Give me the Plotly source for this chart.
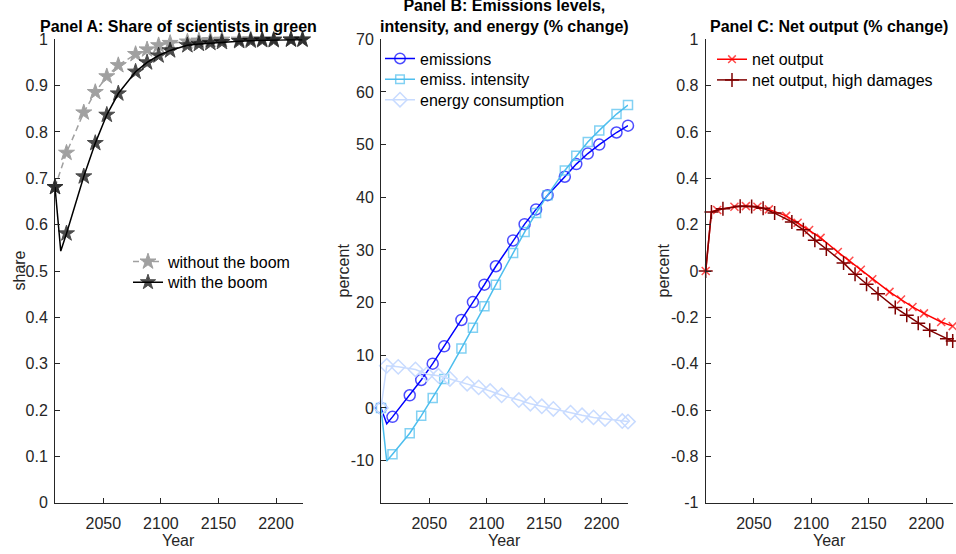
import plotly.graph_objects as go

# ---------------- data ----------------
years_a = [2008, 2013, 2018, 2033, 2043, 2053, 2063, 2078, 2088, 2098, 2108,
           2123, 2133, 2143, 2153, 2168, 2178, 2188, 2198, 2213, 2223]
years_a_nodip = [2008, 2018, 2033, 2043, 2053, 2063, 2078, 2088, 2098, 2108,
                 2123, 2133, 2143, 2153, 2168, 2178, 2188, 2198, 2213, 2223]
years_b = [2008, 2013, 2023, 2038, 2048, 2058, 2068, 2083, 2093, 2103, 2113,
           2128, 2138, 2148, 2158, 2173, 2183, 2193, 2203, 2218, 2223]
unmarked_years = [2013]  # line vertices drawn without a marker (series on years_a)

# Panel A: share of scientists in green
share_without_boom = [0.681, 0.755, 0.842, 0.886, 0.920, 0.944, 0.968, 0.978, 0.987, 0.992,
                      0.995, 0.997, 0.998, 0.999, 0.999, 1.000, 1.000, 1.000, 1.000, 1.000]
share_with_boom = [0.681, 0.543, 0.581, 0.704, 0.776, 0.837, 0.883, 0.930, 0.950, 0.965, 0.976,
                   0.987, 0.990, 0.992, 0.994, 0.996, 0.997, 0.998, 0.998, 0.999, 0.999]

# Panel B: emissions levels, intensity, energy (% change)
emissions = [0.0, -3.0, -1.7, 2.4, 5.3, 8.4, 11.7, 16.7, 20.1, 23.4, 26.9,
             31.8, 34.9, 37.7, 40.4, 43.9, 46.3, 48.3, 50.0, 52.3, 53.6]
emiss_intensity = [0.0, -10.1, -8.8, -4.8, -1.5, 1.9, 5.5, 11.3, 15.2, 19.3, 23.4,
                   29.4, 33.4, 37.0, 40.4, 45.1, 47.9, 50.5, 52.7, 55.8, 57.5]
energy_consumption = [0.0, 8.0, 7.8, 7.3, 6.4, 6.1, 5.5, 4.6, 3.9, 3.2, 2.4,
                      1.5, 0.8, 0.3, -0.2, -0.9, -1.4, -1.8, -2.1, -2.5, -2.6]

# Panel C: net output (% change)
net_output = [0.0, 0.255, 0.263, 0.277, 0.280, 0.277, 0.266, 0.238, 0.208, 0.177, 0.143,
              0.082, 0.044, 0.005, -0.036, -0.090, -0.123, -0.155, -0.183, -0.220, -0.238]
net_output_high = [0.0, 0.255, 0.269, 0.279, 0.278, 0.271, 0.250, 0.212, 0.178, 0.133, 0.095,
                   0.035, -0.014, -0.057, -0.098, -0.158, -0.191, -0.225, -0.256, -0.292, -0.302]

x_tickvals = [2050, 2100, 2150, 2200]
x_ticktext = ["2050", "2100", "2150", "2200"]
yA_tickvals = [0, 0.1, 0.2, 0.3, 0.4, 0.5, 0.6, 0.7, 0.8, 0.9, 1]
yA_ticktext = ["0", "0.1", "0.2", "0.3", "0.4", "0.5", "0.6", "0.7", "0.8", "0.9", "1"]
yB_tickvals = [-10, 0, 10, 20, 30, 40, 50, 60, 70]
yB_ticktext = ["-10", "0", "10", "20", "30", "40", "50", "60", "70"]
yC_tickvals = [-1, -0.8, -0.6, -0.4, -0.2, 0, 0.2, 0.4, 0.6, 0.8, 1]
yC_ticktext = ["-1", "-0.8", "-0.6", "-0.4", "-0.2", "0", "0.2", "0.4", "0.6", "0.8", "1"]

titles = ["<b>Panel A: Share of scientists in green</b>",
          "<b>Panel B: Emissions levels,<br>intensity, and energy (% change)</b>",
          "<b>Panel C: Net output (% change)</b>"]
ylabels = ["share", "percent", "percent"]

# ---------------- styling / layout ----------------
W, H = 956, 554
FONT = "Liberation Sans, Arial, Helvetica, sans-serif"
AX = "#262626"

def px_x(p):
    return p / W

def px_y(p):
    return 1 - p / H

dom_x = [(55, 302.5), (381, 628), (705.7, 952.7)]
dom_y = (px_y(502.7), px_y(39.3))

# legend entry positions (left of entry, vertical centre), in pixels
leg_pos = {
    "legend": (128, 261.7), "legend2": (128, 282.3),
    "legend3": (380, 58.5), "legend4": (380, 79.3), "legend5": (380, 99.8),
    "legend6": (712, 59.3), "legend7": (712, 80.0),
}


def sizes(years, size):
    return [0 if y in unmarked_years else size for y in years]


fig = go.Figure()

# Panel A
fig.add_trace(go.Scatter(
    x=years_a_nodip, y=share_without_boom, mode="lines+markers", name="without the boom",
    line=dict(color="#A0A0A0", width=1.5, dash="6px,4px"),
    marker=dict(symbol="star", size=12, color="#A0A0A0", line=dict(width=1, color="#A0A0A0")),
    xaxis="x", yaxis="y", legend="legend", showlegend=True, cliponaxis=False))
fig.add_trace(go.Scatter(
    x=years_a, y=share_with_boom, mode="lines+markers", name="with the boom",
    line=dict(color="#000000", width=1.5),
    marker=dict(symbol="star", size=sizes(years_a, 12), color="#000000",
                line=dict(width=1, color="#000000")),
    xaxis="x", yaxis="y", legend="legend2", showlegend=True, cliponaxis=False))

# Panel B
fig.add_trace(go.Scatter(
    x=years_a, y=emissions, mode="lines+markers", name="emissions",
    line=dict(color="#0000FF", width=1.5),
    marker=dict(symbol="circle-open", size=sizes(years_a, 11), color="#0000FF",
                line=dict(width=1.5, color="#0000FF")),
    xaxis="x2", yaxis="y2", legend="legend3", showlegend=True, cliponaxis=False))
fig.add_trace(go.Scatter(
    x=years_a, y=emiss_intensity, mode="lines+markers", name="emiss. intensity",
    line=dict(color="#4DBEEE", width=1.5),
    marker=dict(symbol="square-open", size=sizes(years_a, 9), color="#4DBEEE",
                line=dict(width=1.5, color="#4DBEEE")),
    xaxis="x2", yaxis="y2", legend="legend4", showlegend=True, cliponaxis=False))
fig.add_trace(go.Scatter(
    x=years_b, y=energy_consumption, mode="lines+markers", name="energy consumption",
    line=dict(color="#C8DBFF", width=1.5),
    marker=dict(symbol="diamond-open", size=11, color="#C8DBFF",
                line=dict(width=1.5, color="#C8DBFF")),
    xaxis="x2", yaxis="y2", legend="legend5", showlegend=True, cliponaxis=False))

# Panel C
fig.add_trace(go.Scatter(
    x=years_a, y=net_output, mode="lines+markers", name="net output",
    line=dict(color="#FF0000", width=1.5),
    marker=dict(symbol="x-thin-open", size=sizes(years_a, 8), color="#FF0000",
                line=dict(width=1.5, color="#FF0000")),
    xaxis="x3", yaxis="y3", legend="legend6", showlegend=True, cliponaxis=False))
fig.add_trace(go.Scatter(
    x=years_b, y=net_output_high, mode="lines+markers", name="net output, high damages",
    line=dict(color="#7F0000", width=1.5),
    marker=dict(symbol="cross-thin-open", size=10, color="#7F0000",
                line=dict(width=1.5, color="#7F0000")),
    xaxis="x3", yaxis="y3", legend="legend7", showlegend=True, cliponaxis=False))

tickfont = dict(family=FONT, size=16, color=AX)
xcommon = dict(range=[2008, 2223], tickmode="array", tickvals=x_tickvals, ticktext=x_ticktext,
               showline=True, linecolor=AX, linewidth=1, ticks="inside", ticklen=5,
               tickcolor=AX, tickwidth=1, showgrid=False, zeroline=False, tickfont=tickfont,
               ticklabelstandoff=6, automargin=False)
ycommon = dict(showline=True, linecolor=AX, linewidth=1, ticks="inside", ticklen=5,
               tickcolor=AX, tickwidth=1, showgrid=False, zeroline=False, tickfont=tickfont,
               tickmode="array", ticklabelstandoff=3, automargin=False)

layout = dict(
    width=W, height=H, margin=dict(l=0, r=0, t=0, b=0, autoexpand=False),
    paper_bgcolor="white", plot_bgcolor="white", showlegend=True,
    font=dict(family=FONT, color=AX),
    xaxis=dict(domain=[px_x(dom_x[0][0]), px_x(dom_x[0][1])], anchor="y", **xcommon),
    xaxis2=dict(domain=[px_x(dom_x[1][0]), px_x(dom_x[1][1])], anchor="y2", **xcommon),
    xaxis3=dict(domain=[px_x(dom_x[2][0]), px_x(dom_x[2][1])], anchor="y3", **xcommon),
    yaxis=dict(domain=list(dom_y), anchor="x", range=[0, 1], tickvals=yA_tickvals,
               ticktext=yA_ticktext, **ycommon),
    yaxis2=dict(domain=list(dom_y), anchor="x2", range=[-18, 70], tickvals=yB_tickvals,
                ticktext=yB_ticktext, **ycommon),
    yaxis3=dict(domain=list(dom_y), anchor="x3", range=[-1, 1], tickvals=yC_tickvals,
                ticktext=yC_ticktext, **ycommon),
)
legfont = dict(family=FONT, size=16, color="#000000")
for key, (lx, ly) in leg_pos.items():
    layout[key] = dict(x=px_x(lx), y=px_y(ly), bgcolor="rgba(0,0,0,0)", borderwidth=0,
                       font=legfont, xanchor="left", yanchor="middle", itemwidth=30,
                       visible=True)
fig.update_layout(**layout)

annotations = []
for i, (t, yl) in enumerate(zip(titles, ylabels)):
    cx = (dom_x[i][0] + dom_x[i][1]) / 2
    annotations.append(dict(text=t, x=px_x(cx), y=px_y(37), xref="paper", yref="paper",
                            xanchor="center", yanchor="bottom", showarrow=False,
                            font=dict(family=FONT, size=16, color="#000000")))
    annotations.append(dict(text="Year", x=px_x(cx), y=px_y(540), xref="paper", yref="paper",
                            xanchor="center", yanchor="middle", showarrow=False,
                            font=dict(family=FONT, size=16, color=AX)))
    lx = [18.5, 342.5, 662.5][i]
    annotations.append(dict(text=yl, x=px_x(lx), y=px_y(271), xref="paper", yref="paper",
                            xanchor="center", yanchor="middle", textangle=-90, showarrow=False,
                            font=dict(family=FONT, size=16, color=AX)))
fig.update_layout(annotations=annotations)

fig.write_html("out.html", config={"displayModeBar": False},
               post_script="document.body.style.margin='0px';document.body.style.overflow='hidden';")
